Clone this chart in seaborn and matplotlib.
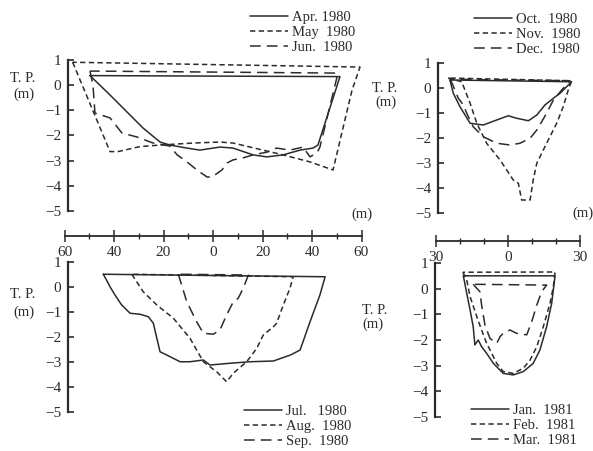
import matplotlib
matplotlib.use("Agg")
import matplotlib.pyplot as plt
import seaborn as sns
import pandas as pd

# ---------------- data (distance m, elevation T.P. m) ----------------
apr_x = [-49.7, -41.6, -34.7, -28.3, -21.4, -17.4, -10.5, -5.3, 2.8, 8.1, 16.2, 21.8, 28.3, 35.2, 40.4, 42.4, 51.3, -49.7]
apr_y = [0.38, -0.39, -1.07, -1.70, -2.26, -2.38, -2.50, -2.58, -2.46, -2.50, -2.77, -2.85, -2.77, -2.58, -2.50, -2.38, 0.34, 0.38]
may_x = [-56.7, -41.6, -38.4, -29.5, -21.4, -8.1, 2.8, 8.1, 15.0, 28.3, 39.2, 48.5, 53.3, 56.2, 59.4, -56.7]
may_y = [0.91, -2.64, -2.64, -2.44, -2.38, -2.30, -2.26, -2.30, -2.46, -2.77, -3.05, -3.37, -1.38, -0.19, 0.72, 0.91]
jun_x = [-49.7, -48.5, -47.7, -41.6, -36.8, -30.7, -24.2, -17.4, -14.5, -10.5, -6.5, -2.4, -0.4, 3.6, 5.7, 8.1, 12.1,
         16.2, 21.8, 25.7, 31.1, 36.4, 39.2, 42.0, 43.2, 50.5, -49.7]
jun_y = [0.56, 0.01, -1.11, -1.30, -1.90, -2.06, -2.30, -2.42, -2.77, -3.05, -3.37, -3.65, -3.65, -3.37, -3.09, -2.97, -2.89,
         -2.77, -2.66, -2.50, -2.58, -2.46, -2.85, -2.69, -2.46, 0.48, 0.56]

jul_x = [-44.3, -41.6, -39.6, -36.9, -33.5, -29.5, -26.1, -24.1, -22.7, -21.4, -18.7, -13.3, -9.3, -3.9, -1.2, 6.9,
         15.0, 24.4, 31.3, 35.2, 39.2, 43.2, 45.3, -44.3]
jul_y = [0.51, 0.01, -0.32, -0.72, -1.05, -1.09, -1.19, -1.45, -2.05, -2.59, -2.72, -2.99, -2.99, -2.92, -3.12, -3.05,
         -2.99, -2.96, -2.72, -2.52, -1.39, -0.32, 0.41, 0.51]
aug_x = [-32.8, -28.2, -22.7, -16.0, -9.3, -3.9, 1.5, 5.5, 8.2, 13.6, 17.7, 20.3, 24.4, 25.7, 28.4, 31.1, 32.4, -32.8]
aug_y = [0.51, -0.19, -0.72, -1.25, -2.05, -2.99, -3.39, -3.79, -3.45, -2.99, -2.45, -1.92, -1.59, -1.45, -0.72, -0.05, 0.41, 0.51]
sep_x = [-14.0, -10.6, -6.6, -3.9, 0.1, 2.8, 5.5, 8.2, 10.2, 12.2, 14.3, -14.0]
sep_y = [0.51, -0.59, -1.39, -1.85, -1.89, -1.72, -1.12, -0.59, -0.45, -0.05, 0.48, 0.51]

oct_x = [-24.2, -22.8, -20.0, -15.8, -10.3, -4.7, 0.1, 3.6, 8.5, 12.0, 15.4, 18.9, 21.7, 26.5, -24.2]
oct_y = [0.32, -0.21, -0.75, -1.41, -1.48, -1.28, -1.11, -1.21, -1.31, -1.08, -0.68, -0.41, -0.21, 0.25, 0.32]
nov_x = [-25.0, -19.3, -15.8, -13.0, -8.9, -3.3, 2.2, 4.3, 5.7, 9.2, 10.5, 12.0, 16.1, 20.3, 23.0, 25.1, 26.5, -25.0]
nov_y = [0.40, 0.25, -0.61, -1.41, -2.21, -2.88, -3.68, -3.81, -4.48, -4.48, -3.68, -3.01, -2.21, -1.41, -0.75, -0.08, 0.29, 0.40]
dec_x = [-24.0, -20.7, -18.6, -17.2, -14.5, -10.3, -4.7, 0.8, 5.0, 9.2, 12.0, 16.1, 18.9, 22.4, 25.8, -24.0]
dec_y = [0.35, -0.41, -0.68, -1.01, -1.55, -1.95, -2.21, -2.28, -2.21, -2.01, -1.68, -1.01, -0.48, -0.08, 0.29, 0.35]

jan_x = [-18.6, -17.2, -15.8, -14.5, -13.8, -12.4, -11.0, -8.9, -6.1, -2.0, 2.2, 6.4, 10.5, 13.3, 16.1, 18.2, 19.6, -18.6]
jan_y = [0.50, -0.18, -0.83, -1.48, -2.19, -2.00, -2.26, -2.52, -2.91, -3.30, -3.36, -3.23, -2.91, -2.39, -1.48, -0.57, 0.50, 0.50]
feb_x = [-18.8, -17.2, -15.8, -13.0, -11.0, -8.9, -6.8, -4.7, -2.0, 2.2, 6.4, 9.2, 12.0, 14.7, 17.5, 18.9, 19.6, -18.8]
feb_y = [0.64, 0.34, -0.31, -1.09, -1.61, -2.13, -2.52, -2.91, -3.23, -3.30, -3.10, -2.78, -2.26, -1.48, -0.57, 0.08, 0.65, 0.64]
mar_x = [-14.5, -11.7, -11.0, -9.6, -7.5, -4.7, -3.3, -2.0, 0.8, 3.6, 7.8, 9.9, 12.0, 14.0, 16.1, -14.5]
mar_y = [0.17, -0.12, -0.64, -1.42, -1.94, -2.13, -1.87, -1.74, -1.61, -1.74, -1.80, -1.28, -0.64, -0.12, 0.14, 0.17]

panel1_labels = ["Apr. 1980", "May  1980", "Jun.  1980"]
panel2_labels = ["Oct.  1980", "Nov.  1980", "Dec.  1980"]
panel3_labels = ["Jul.   1980", "Aug.  1980", "Sep.  1980"]
panel4_labels = ["Jan.  1981", "Feb.  1981", "Mar.  1981"]
y_ticks = [1, 0, -1, -2, -3, -4, -5]
left_scale_ticks = [-60, -40, -20, 0, 20, 40, 60]
right_scale_ticks = [-30, 0, 30]

# ---------------- styling ----------------
W, H = 593, 451
sns.set_theme(style="white")
plt.rcParams["font.family"] = ["Liberation Serif", "DejaVu Serif"]
plt.rcParams["axes.unicode_minus"] = True
INK = "#2b2b2b"
SOLID = "-"
SHORT = (0, (3.5, 2.2))
LONG = (0, (7, 4))
FS = 10.5

fig = plt.figure(figsize=(W / 100, H / 100), dpi=100)


def px_axes(x0, x1, y_top, y_bot):
    return fig.add_axes([x0 / W, 1 - y_bot / H, (x1 - x0) / W, (y_bot - y_top) / H])


def yfmt(v):
    return str(v) if v >= 0 else "\u2212" + str(-v)


def panel(x0, x1, xlim, y_top, y_bot, series, labels, leg_xy):
    ax = px_axes(x0, x1, y_top, y_bot)
    ax.set_xlim(*xlim)
    ax.set_ylim(-5, 1)
    ax.patch.set_alpha(0)
    for (xs, ys, ls), lab in zip(series, labels):
        df = pd.DataFrame({"x": xs, "y": ys})
        sns.lineplot(data=df, x="x", y="y", sort=False, estimator=None, ax=ax,
                     color=INK, linestyle=ls, linewidth=1.1, label=lab, clip_on=False)
    ax.set_xlim(*xlim)
    ax.set_ylim(-5, 1)
    for s in ["top", "right", "bottom"]:
        ax.spines[s].set_visible(False)
    ax.spines["left"].set_color(INK)
    ax.spines["left"].set_linewidth(1.6)
    ax.set_xticks([])
    ax.set_yticks(y_ticks)
    ax.set_yticklabels([yfmt(v) for v in y_ticks], fontsize=FS + 0.5, color=INK)
    ax.tick_params(axis="y", direction="in", length=4, width=1.2, color=INK, pad=5, left=True)
    ax.set_xlabel("")
    ax.set_ylabel("")
    ax.legend(loc="upper left", bbox_to_anchor=(leg_xy[0] / W, 1 - leg_xy[1] / H),
              bbox_transform=fig.transFigure, frameon=False, fontsize=FS,
              handlelength=2.6, handletextpad=0.25, labelspacing=0.12, borderpad=0,
              borderaxespad=0, labelcolor=INK)
    return ax


# left panels: 0 m at px 213, 2.475 px per m; right panels: 0 m at px 508, 2.4 px per m
def lx(px):
    return (px - 213) / 2.475


def rx(px):
    return (px - 508) / 2.4


panel(68, 372, (lx(68), lx(372)), 60, 211,
      [(apr_x, apr_y, SOLID), (may_x, may_y, SHORT), (jun_x, jun_y, LONG)],
      panel1_labels, (250, 11))
panel(68, 372, (lx(68), lx(372)), 262, 412,
      [(jul_x, jul_y, SOLID), (aug_x, aug_y, SHORT), (sep_x, sep_y, LONG)],
      panel3_labels, (244, 405))
panel(438, 590, (rx(438), rx(590)), 63, 213,
      [(oct_x, oct_y, SOLID), (nov_x, nov_y, SHORT), (dec_x, dec_y, LONG)],
      panel2_labels, (474, 13))
panel(435, 590, (rx(435), rx(590)), 263, 417,
      [(jan_x, jan_y, SOLID), (feb_x, feb_y, SHORT), (mar_x, mar_y, LONG)],
      panel4_labels, (471, 404))


def scale(x0, x1, lim, y, major, minor_step):
    ax = px_axes(x0, x1, y - 1, y)
    ax.set_xlim(*lim)
    ax.set_ylim(0, 1)
    ax.patch.set_alpha(0)
    for s in ["top", "right", "left"]:
        ax.spines[s].set_visible(False)
    ax.spines["bottom"].set_color(INK)
    ax.spines["bottom"].set_linewidth(1.3)
    ax.set_yticks([])
    ax.set_xticks(major)
    ax.set_xticklabels([str(abs(v)) for v in major], fontsize=FS + 0.5, color=INK)
    minors = list(range(lim[0], lim[1] + 1, minor_step))
    ax.set_xticks(minors, minor=True)
    ax.tick_params(axis="x", which="major", direction="inout", length=8, width=1.1,
                   color=INK, pad=3, bottom=True)
    ax.tick_params(axis="x", which="minor", direction="inout", length=5, width=1.0,
                   color=INK, bottom=True)


scale(213 - 60 * 2.475, 213 + 60 * 2.475, (-60, 60), 236, left_scale_ticks, 10)
scale(508 - 30 * 2.4, 508 + 30 * 2.4, (-30, 30), 241, right_scale_ticks, 10)


# axis titles
def t(x, y, s, **kw):
    fig.text(x / W, 1 - y / H, s, fontsize=FS, color=INK, va="center", **kw)


t(10, 78, "T. P.")
t(13, 94, "(m)")
t(10, 294, "T. P.")
t(13, 312, "(m)")
t(372, 88, "T. P.")
t(375, 102, "(m)")
t(362, 310, "T. P.")
t(362, 324, "(m)")
t(351, 214, "(m)")
t(572, 213, "(m)")

fig.savefig("out.png", dpi=100, facecolor="white")
